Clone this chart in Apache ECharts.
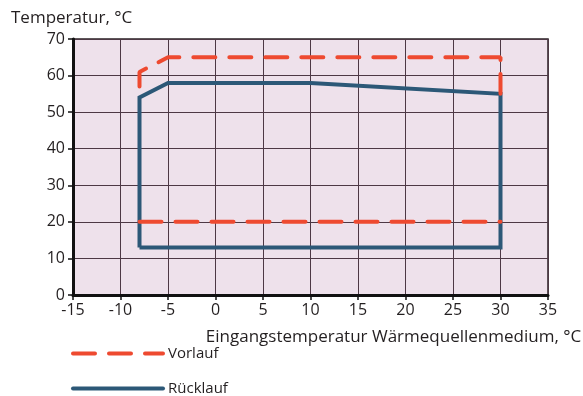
<!DOCTYPE html>
<html>
<head>
<meta charset="utf-8">
<script src="https://cdn.jsdelivr.net/npm/echarts@6/dist/echarts.min.js"></script>
<style>
  html, body { margin: 0; padding: 0; background: #ffffff; }
  #chart { width: 583px; height: 396px; }
</style>
</head>
<body>
<div id="chart"></div>
<script>
// Operating envelope of the heat pump: flow (Vorlauf) and return (Rücklauf) temperature limits
const xTicks = [-15, -10, -5, 0, 5, 10, 15, 20, 25, 30, 35];
const yTicks = [0, 10, 20, 30, 40, 50, 60, 70];

// Vorlauf: upper limit path and lower limit line, [source temperature, water temperature]
const vorlaufUpper = [[-8, 57], [-8, 61], [-5, 65], [30, 65], [30, 55]];
const vorlaufLower = [[-8, 20], [30, 20]];
// Rücklauf: closed envelope
const ruecklauf = [[-8, 13], [-8, 54], [-5, 58], [10, 58], [30, 55], [30, 13], [-8, 13]];

const FONT = 'Open Sans';
const TEXT = '#231f20';
const RED = '#ee4a30';
const BLUE = '#2c5877';

const redStyle = { color: RED, width: 4, type: [22, 14], cap: 'round' };
const blueStyle = { color: BLUE, width: 4, type: 'solid', join: 'miter' };

const chart = echarts.init(document.getElementById('chart'), null, { renderer: 'canvas' });
chart.setOption({
  animation: false,
  backgroundColor: '#ffffff',
  textStyle: { fontFamily: FONT, color: TEXT },
  title: {
    text: 'Temperatur, °C',
    left: 6, top: 5,
    textStyle: { fontFamily: FONT, fontSize: 17, fontWeight: 'normal', color: TEXT }
  },
  grid: {
    left: 73, right: 35, top: 39, bottom: 101,
    containLabel: false,
    outerBoundsMode: 'none',
    show: true,
    backgroundColor: '#eee1eb',
    borderColor: '#2a2024',
    borderWidth: 1.5
  },
  legend: {
    orient: 'vertical',
    left: 71, top: 346,
    padding: 0,
    itemWidth: 90, itemHeight: 14, itemGap: 20,
    itemStyle: { opacity: 0 },
    lineStyle: { width: 4, cap: 'round' },
    textStyle: { fontFamily: FONT, fontSize: 15, color: TEXT },
    data: ['Vorlauf', 'Rücklauf']
  },
  xAxis: {
    type: 'value',
    min: xTicks[0], max: xTicks[xTicks.length - 1], interval: 5,
    name: 'Eingangstemperatur Wärmequellenmedium, °C',
    nameLocation: 'middle', nameGap: 34,
    nameTextStyle: { fontFamily: FONT, fontSize: 17, color: TEXT, padding: [0, 0, 0, 166] },
    axisLine: { show: true, onZero: false, lineStyle: { color: '#111', width: 3 } },
    axisTick: { show: true, inside: false, length: 5, lineStyle: { color: '#111', width: 1.5 } },
    axisLabel: { fontFamily: FONT, fontSize: 16, color: TEXT, margin: 7 },
    splitLine: { show: true, lineStyle: { color: '#4d3844', width: 1 } }
  },
  yAxis: {
    type: 'value',
    min: yTicks[0], max: yTicks[yTicks.length - 1], interval: 10,
    axisLine: { show: true, onZero: false, lineStyle: { color: '#111', width: 3 } },
    axisTick: { show: true, inside: false, length: 5, lineStyle: { color: '#111', width: 1.5 } },
    axisLabel: { fontFamily: FONT, fontSize: 16, color: TEXT, margin: 8 },
    splitLine: { show: true, lineStyle: { color: '#4d3844', width: 1 } }
  },
  series: [
    { name: 'Vorlauf', type: 'line', data: vorlaufUpper, symbol: 'none', lineStyle: redStyle, itemStyle: { color: RED }, z: 3 },
    { name: 'Vorlauf', type: 'line', data: vorlaufLower, symbol: 'none', lineStyle: redStyle, itemStyle: { color: RED }, z: 3 },
    { name: 'Rücklauf', type: 'line', data: ruecklauf, symbol: 'none', lineStyle: blueStyle, itemStyle: { color: BLUE }, z: 2 }
  ]
});
</script>
</body>
</html>
